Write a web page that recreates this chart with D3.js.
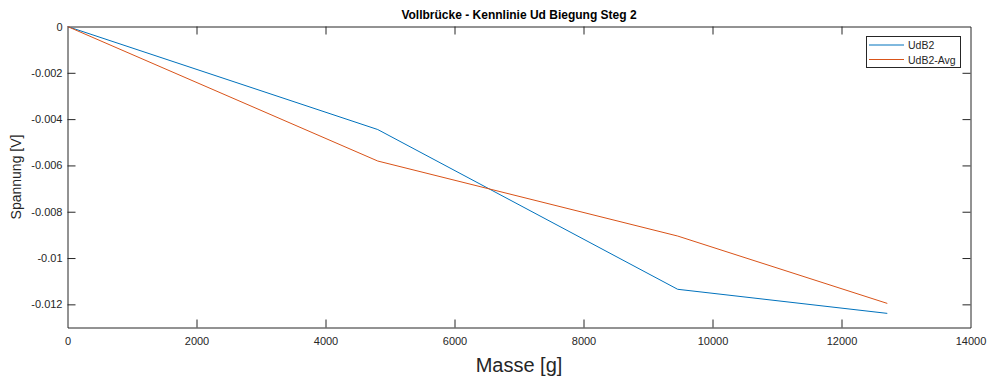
<!DOCTYPE html>
<html><head><meta charset="utf-8">
<script src="https://cdn.jsdelivr.net/npm/d3@7"></script>
<style>body{margin:0;background:#fff}svg{display:block;font-family:"Liberation Sans",Arial,sans-serif}</style>
</head><body><svg id="c" width="992" height="380"></svg>
<script>
const masses = [0, 4810, 9460, 12710];
const udB2 = [0, -0.00445, -0.01135, -0.01239];
const udB2Avg = [0, -0.00581, -0.00905, -0.01196];
const xTicks = [0, 2000, 4000, 6000, 8000, 10000, 12000, 14000];
const yTicks = [0, -0.002, -0.004, -0.006, -0.008, -0.01, -0.012];
const seriesNames = ["UdB2", "UdB2-Avg"];
const colors = ["#0072BD", "#D95319"];

const svg = d3.select("#c");
const L = 67.5, R = 970.5, T = 26.5, B = 327.5;
const x = d3.scaleLinear().domain([0, 14000]).range([L, R]);
const y = d3.scaleLinear().domain([-0.013, 0]).range([B, T]);
const axCol = "#262626", tickLen = 8;

svg.append("rect").attr("x", L).attr("y", T).attr("width", R - L).attr("height", B - T).attr("fill", "#fff");

const fmt = d => d === 0 ? "0" : String(d);
const gx = svg.append("g").attr("transform", `translate(0,${B})`)
  .call(d3.axisBottom(x).tickValues(xTicks).tickFormat(fmt).tickSizeInner(-tickLen).tickSizeOuter(0).tickPadding(10));
const gxt = svg.append("g").attr("transform", `translate(0,${T})`)
  .call(d3.axisTop(x).tickValues(xTicks).tickFormat("").tickSizeInner(-tickLen).tickSizeOuter(0));
const gy = svg.append("g").attr("transform", `translate(${L},0)`)
  .call(d3.axisLeft(y).tickValues(yTicks).tickFormat(fmt).tickSizeInner(-tickLen).tickSizeOuter(0).tickPadding(5));
const gyr = svg.append("g").attr("transform", `translate(${R},0)`)
  .call(d3.axisRight(y).tickValues(yTicks).tickFormat("").tickSizeInner(-tickLen).tickSizeOuter(0));
[gx, gxt, gy, gyr].forEach(g => {
  g.select(".domain").attr("stroke", axCol);
  g.selectAll(".tick line").attr("stroke", axCol);
  g.selectAll(".tick text").attr("fill", axCol).attr("font-size", 11).attr("font-family", "Liberation Sans, Arial, sans-serif");
});
gx.selectAll(".tick line").filter(d => d === 0 || d === 14000).remove();
gxt.selectAll(".tick line").filter(d => d === 0 || d === 14000).remove();
gy.selectAll(".tick line").filter(d => d === 0).remove();
gyr.selectAll(".tick line").filter(d => d === 0).remove();

const series = [udB2, udB2Avg];
const line = d3.line().x(d => x(d[0])).y(d => y(d[1]));
series.forEach((s, i) => {
  svg.append("path").datum(masses.map((m, j) => [m, s[j]]))
    .attr("d", line).attr("fill", "none").attr("stroke", colors[i]).attr("stroke-width", 1);
});

svg.append("text").attr("x", (L + R) / 2).attr("y", 19).attr("text-anchor", "middle")
  .attr("font-size", 12).attr("font-weight", "bold").attr("fill", "#000").text("Vollbrücke - Kennlinie Ud Biegung Steg 2");
svg.append("text").attr("x", (L + R) / 2).attr("y", 372).attr("text-anchor", "middle")
  .attr("font-size", 20).attr("fill", axCol).text("Masse [g]");
svg.append("text").attr("transform", `translate(21,${(T + B) / 2}) rotate(-90)`).attr("text-anchor", "middle")
  .attr("font-size", 14).attr("fill", axCol).text("Spannung [V]");

const lg = svg.append("g");
lg.append("rect").attr("x", 866.5).attr("y", 36.5).attr("width", 94).attr("height", 31)
  .attr("fill", "#fff").attr("stroke", axCol).attr("stroke-width", 1);
seriesNames.forEach((n, i) => {
  const yy = 45 + i * 14.5;
  lg.append("line").attr("x1", 869).attr("x2", 904).attr("y1", yy).attr("y2", yy).attr("stroke", colors[i]).attr("stroke-width", 1);
  lg.append("text").attr("x", 908).attr("y", yy + 4).attr("font-size", 10.5).attr("fill", axCol).text(n);
});
</script></body></html>
